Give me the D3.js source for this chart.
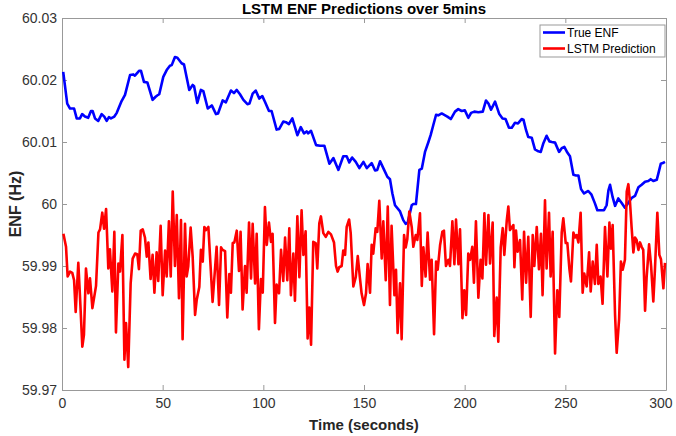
<!DOCTYPE html>
<html>
<head>
<meta charset="utf-8">
<script src="https://cdn.jsdelivr.net/npm/d3@7"></script>
<style>
  body { margin: 0; background: #fff; }
  svg { display: block; font-family: "Liberation Sans", Arial, sans-serif; }
</style>
</head>
<body>
<div id="chart"></div>
<script>
var xTicks = [0, 50, 100, 150, 200, 250, 300];
var yTicks = [59.97, 59.98, 59.99, 60, 60.01, 60.02, 60.03];
var seriesNames = ["True ENF", "LSTM Prediction"];

// True ENF
var trueT = [0.6,2.6,4,6,7.3,8.9,10,11.4,13,14.4,15.2,16.4,18,19.7,21,22.2,23.3,24.3,26,27.2,29.6,31.3,33.8,35.4,36.2,38.4,39.2,40.7,42.4,45,46.5,47.3,48.3,50.3,52,53.6,54.5,56.1,57.3,59.4,60.6,63.2,64.9,65.6,67.2,69,70.2,72.4,74.4,76.5,77.5,79.8,81.4,83.9,85.4,86.8,88.4,90.1,92.1,93.1,94.7,96.2,98,99.5,100.8,102.8,104.1,106.6,107.9,109.9,111.2,112.7,114.4,116.9,118.6,120.2,121.5,122.3,123.7,126.2,128.2,130.3,132.8,134.8,137.3,139.7,141.4,142.7,144.1,145.9,147.7,149.7,151.4,153.8,155.5,156.6,158,160,161.6,162.9,164.1,165.4,167.9,169.5,170.7,171.7,173.7,174.5,175.8,177.5,178.7,180.3,182,183.1,184.4,185.8,186.9,188.6,190.3,191.4,193.1,195.2,196.8,198.5,200.1,201.8,203.2,204.8,206.8,209,210.6,211.8,213.1,215.1,217.2,218.8,220.3,222,223.4,225,226.5,228.3,229.2,230.5,231.6,233.3,234.9,236.6,237.8,239.1,240.7,242.1,243.3,244.9,246.9,248.2,249.5,251,252.3,254,255.3,256.5,257.8,259.3,261.4,263,264.7,265.9,267.6,269.2,270.5,271.4,272.2,273.5,274.7,276.3,277.9,279.6,281.3,283,284.6,286.3,287.9,289.6,291.2,292.4,293.7,295.4,296.2,297.4,298.4,299.5];
var trueV = [60.0213,60.0162,60.0154,60.0154,60.0138,60.0138,60.0145,60.0141,60.0139,60.015,60.015,60.0138,60.0134,60.0145,60.0141,60.0134,60.014,60.0138,60.0141,60.0147,60.0166,60.0176,60.0208,60.0209,60.0207,60.0215,60.0215,60.0197,60.0196,60.0168,60.0173,60.0175,60.0177,60.0205,60.0216,60.0223,60.0224,60.0237,60.0236,60.0227,60.0225,60.0184,60.0192,60.019,60.0163,60.0184,60.0182,60.0154,60.0159,60.0145,60.0146,60.0167,60.0164,60.0183,60.0179,60.0184,60.0177,60.0168,60.0161,60.0162,60.0178,60.0183,60.017,60.0174,60.0165,60.015,60.015,60.012,60.0121,60.0133,60.0132,60.0129,60.0138,60.0111,60.0124,60.0114,60.0117,60.0114,60.0118,60.0095,60.0094,60.0094,60.0065,60.0074,60.0055,60.0077,60.0077,60.0067,60.0075,60.0068,60.0058,60.0068,60.0058,60.0066,60.0054,60.0055,60.0069,60.0055,60.0044,60.004,60.0017,59.9998,59.9988,59.9974,59.9968,59.997,59.9998,60.0,60.0,60.0055,60.0057,60.0084,60.01,60.0111,60.0127,60.0144,60.0143,60.0146,60.0143,60.0141,60.0137,60.0149,60.0153,60.015,60.0151,60.0139,60.0147,60.0149,60.0148,60.0149,60.0167,60.0162,60.0152,60.0165,60.0145,60.0138,60.0137,60.0123,60.0123,60.0131,60.013,60.0137,60.0136,60.0119,60.0108,60.0107,60.0088,60.0085,60.0084,60.0098,60.011,60.0101,60.01,60.0099,60.0084,60.009,60.0092,60.0083,60.0077,60.0047,60.0046,60.0046,60.0024,60.0017,60.0021,60.0015,60.0001,59.999,59.999,59.999,59.9998,60.0022,60.0031,60.0011,59.9997,60.0009,60.0002,59.9994,60.0002,60.001,60.0013,60.0027,60.0031,60.0036,60.0037,60.004,60.0037,60.0039,60.0049,60.0065,60.0066,60.0068];

// LSTM prediction
var predT = [0.7,2,2.8,4,5.1,6,6.8,8.1,8.9,10.1,10.9,11.9,13.1,13.9,15.1,16.9,18.1,18.9,20,20.9,21.9,23,23.8,25,26,26.8,28,28.8,30,31,31.8,32.9,34.1,35.1,36.3,37.4,38.2,39.1,40.1,41.2,42.1,42.9,44,45,45.9,47,47.8,49,50,51.2,52,53.1,54,55,56.1,57,58.1,59.1,59.9,61.1,61.9,62.7,63.9,64.9,66.1,66.9,68.2,69,69.9,70.7,71.5,72.7,74.8,76.8,78,79,79.8,81,82.1,83.1,83.9,84.8,85.6,86.8,87.9,88.7,89.7,90.9,91.7,92.9,93.9,94.7,95.9,96.7,97.8,98.8,99.7,100.8,101.7,102.8,103.8,104.6,105.8,106.6,107.8,108.8,109.9,110.8,111.9,112.9,113.7,114.9,115.7,116.9,117.9,119,119.9,121,122,122.8,123.7,124.8,126,126.8,127.8,128.6,129.8,131,132.3,133.6,135.1,136.1,136.9,137.7,138.9,139.7,140.6,141.4,142.6,143.4,144.7,145.9,146.9,148,148.8,150,151,151.8,153,153.8,154.6,155.8,156.6,157.6,158.8,159.6,160.8,161.8,162.9,163.7,165.1,165.9,166.7,167.9,168.7,169.9,170.7,171.5,172.5,173.7,174.5,175.7,176.5,177.8,178.7,179.5,180.6,181.6,182.8,183.6,184.8,185.8,186.6,187.8,188.9,189.7,190.7,191.9,192.7,193.9,194.9,195.7,196.9,197.7,198.9,199.8,200.7,201.8,202.7,203.8,204.6,205.6,206.8,207.9,208.8,209.8,210.6,211.8,212.6,213.9,214.7,215.9,216.7,217.9,218.9,219.7,220.9,221.7,222.5,224.2,224.7,225.5,226.3,227.5,228.6,229.5,230.5,231.6,232.8,233.8,234.6,235.8,236.9,237.9,238.7,239.9,240.7,241.9,242.7,243.7,244.9,246,247,248.2,249,250.2,251,252,252.8,254,254.8,255.6,256.5,257.6,258.6,259.4,260.6,261.8,262.6,263.6,264.7,265.6,266.4,267.5,268.5,269.7,270.9,271.9,272.7,273.5,274.7,275.5,276.7,277.6,278.5,279.6,280.5,281.3,282.1,282.9,283.8,284.6,285.4,286.3,287.1,287.9,288.7,289.6,290.4,291.6,292.6,293.7,294.5,295.7,296.7,297.5,298.7,299.5];
var predV = [59.9952,59.9931,59.9883,59.9891,59.9889,59.9877,59.9826,59.9905,59.9853,59.977,59.9789,59.9896,59.9856,59.988,59.9832,59.9868,59.9954,59.9959,59.9986,59.996,59.9992,59.9896,59.9927,59.9859,59.9955,59.9793,59.9904,59.9891,59.995,59.9749,59.9808,59.9737,59.9872,59.9912,59.992,59.9919,59.9895,59.9957,59.9959,59.9946,59.9915,59.9938,59.9879,59.9918,59.9857,59.9922,59.9876,59.9965,59.9853,59.9925,59.9883,59.9972,59.9883,60.002,59.99,59.9982,59.9848,59.9974,59.9782,59.9968,59.9883,59.9899,59.9962,59.9915,59.9821,59.9845,59.9866,59.9926,59.9907,59.9963,59.9958,59.9963,59.9842,59.9931,59.9837,59.993,59.9926,59.9924,59.9817,59.9887,59.9857,59.9937,59.9938,59.9957,59.9892,59.9955,59.983,59.99,59.9857,59.997,59.988,59.9968,59.9872,59.9952,59.9798,59.9879,59.9857,59.9995,59.9934,59.997,59.9939,59.9952,59.9808,59.987,59.9856,59.9926,59.9876,59.9946,59.9877,59.9961,59.9853,59.992,59.9844,59.998,59.9882,59.999,59.9918,59.9956,59.9783,59.9833,59.9773,59.9939,59.9937,59.9896,59.9969,59.998,59.9953,59.9947,59.9955,59.9951,59.9938,59.99,59.9891,59.9898,59.99,59.9925,59.9918,59.9963,59.9975,59.9953,59.9867,59.9882,59.9916,59.988,59.9856,59.9837,59.9856,59.9903,59.9857,59.9934,59.992,59.9961,59.9955,60.0005,59.9912,59.9972,59.9877,59.9996,59.9837,59.9965,59.9853,59.9894,59.9792,59.9872,59.9782,59.995,59.993,59.9943,59.9988,59.9963,59.9931,59.995,59.9942,59.9985,59.9868,59.993,59.9883,59.9954,59.9878,59.991,59.979,59.9907,59.9894,59.9934,59.9955,59.9957,59.99,59.991,59.99,59.9972,59.9903,59.9975,59.9903,59.9959,59.9816,59.9861,59.9821,59.992,59.991,59.9931,59.9873,59.9972,59.9849,59.991,59.988,59.9985,59.9902,59.9982,59.9904,59.997,59.9787,59.9849,59.9778,59.993,59.9961,59.9918,59.9973,59.9996,59.9958,59.9966,59.9898,59.9957,59.9923,59.9942,59.9846,59.9955,59.9873,59.9947,59.9818,59.995,59.99,59.9963,59.9895,59.9952,59.9853,60.0006,59.9896,59.9986,59.9883,59.9955,59.9759,59.9861,59.9818,59.9954,59.9977,59.9937,59.9937,59.9896,59.9875,59.9954,59.9946,59.995,59.9938,59.9986,59.9857,59.9888,59.9867,59.9922,59.9859,59.9907,59.9871,59.9934,59.9871,59.9883,59.9839,59.9963,59.9883,59.997,59.9928,59.9966,59.9821,59.976,59.9814,59.9907,59.9894,59.991,60.002,60.0032,60.0004,59.9963,59.9922,59.9946,59.9942,59.9926,59.9938,59.9931,59.9926,59.9828,59.9883,59.9935,59.99,59.9843,59.9894,59.9986,59.9918,59.9911,59.9864,59.9905];

var width = 676, height = 436;
var margin = { top: 18, right: 10, bottom: 46, left: 62 };
var plotW = width - margin.left - margin.right;
var plotH = height - margin.top - margin.bottom;

var axisColor = "#999999";
var textColor = "#333333";

var svg = d3.select("#chart").append("svg")
  .attr("width", width)
  .attr("height", height);

var x = d3.scaleLinear().domain([0, 300]).range([0, plotW]);
var y = d3.scaleLinear().domain([59.97, 60.03]).range([plotH, 0]);

var g = svg.append("g")
  .attr("transform", "translate(" + margin.left + "," + margin.top + ")");

g.append("rect")
  .attr("width", plotW).attr("height", plotH)
  .attr("fill", "#fff");

// axes (ticks point inward like matlab)
var yFmt = function(d) { return d3.format(".2f")(d).replace(/\.00$/, ""); };

var bottomAxis = g.append("g").attr("transform", "translate(0," + plotH + ")")
  .call(d3.axisBottom(x).tickValues(xTicks).tickSize(-5).tickSizeOuter(0).tickPadding(8));
var leftAxis = g.append("g")
  .call(d3.axisLeft(y).tickValues(yTicks).tickFormat(yFmt).tickSize(-5).tickSizeOuter(0).tickPadding(5));
var topAxis = g.append("g")
  .call(d3.axisTop(x).tickValues(xTicks).tickSize(-5).tickSizeOuter(0).tickFormat(""));
var rightAxis = g.append("g").attr("transform", "translate(" + plotW + ",0)")
  .call(d3.axisRight(y).tickValues(yTicks).tickSize(-5).tickSizeOuter(0).tickFormat(""));

[bottomAxis, leftAxis, topAxis, rightAxis].forEach(function(a) {
  a.selectAll("path, line").attr("stroke", axisColor);
  a.selectAll("text").attr("fill", textColor).style("font-size", "14px")
    .style("font-family", "'Liberation Sans', Arial, sans-serif");
});

// last x label would run off the page edge, pull it in a little
bottomAxis.selectAll(".tick text")
  .filter(function(d) { return d === 300; })
  .attr("text-anchor", "end")
  .attr("dx", 6);

var line = d3.line()
  .x(function(d) { return x(d[0]); })
  .y(function(d) { return y(d[1]); });

var trueData = trueT.map(function(t, i) { return [t, trueV[i]]; });
var predData = predT.map(function(t, i) { return [t, predV[i]]; });

g.append("path").datum(trueData)
  .attr("d", line)
  .attr("fill", "none")
  .attr("stroke", "#0000ff")
  .attr("stroke-width", 2.6)
  .attr("stroke-linejoin", "round");

g.append("path").datum(predData)
  .attr("d", line)
  .attr("fill", "none")
  .attr("stroke", "#ff0000")
  .attr("stroke-width", 2.6)
  .attr("stroke-linejoin", "round");

// title and labels
svg.append("text")
  .attr("x", margin.left + plotW / 2).attr("y", 14)
  .attr("text-anchor", "middle")
  .style("font-size", "15px").style("font-weight", "bold")
  .attr("fill", "#000")
  .text("LSTM ENF Predictions over 5mins");

svg.append("text")
  .attr("x", margin.left + plotW / 2).attr("y", 430)
  .attr("text-anchor", "middle")
  .style("font-size", "15px").style("font-weight", "bold")
  .attr("fill", "#262626")
  .text("Time (seconds)");

svg.append("text")
  .attr("transform", "translate(21," + (margin.top + plotH / 2) + ") rotate(-90)")
  .attr("text-anchor", "middle")
  .style("font-size", "16px").style("font-weight", "bold")
  .attr("fill", "#262626")
  .text("ENF (Hz)");

// legend
var legend = svg.append("g").attr("transform", "translate(540,25)");
legend.append("rect")
  .attr("width", 125).attr("height", 32)
  .attr("fill", "#fff").attr("stroke", axisColor);

var colors = ["#0000ff", "#ff0000"];
seriesNames.forEach(function(name, i) {
  var row = legend.append("g").attr("transform", "translate(0," + (7.5 + i * 16) + ")");
  row.append("line")
    .attr("x1", 3).attr("x2", 25).attr("y1", 0).attr("y2", 0)
    .attr("stroke", colors[i]).attr("stroke-width", 2.6);
  row.append("text")
    .attr("x", 27).attr("y", 4.5)
    .style("font-size", "12px")
    .attr("fill", "#000")
    .text(name);
});
</script>
</body>
</html>
